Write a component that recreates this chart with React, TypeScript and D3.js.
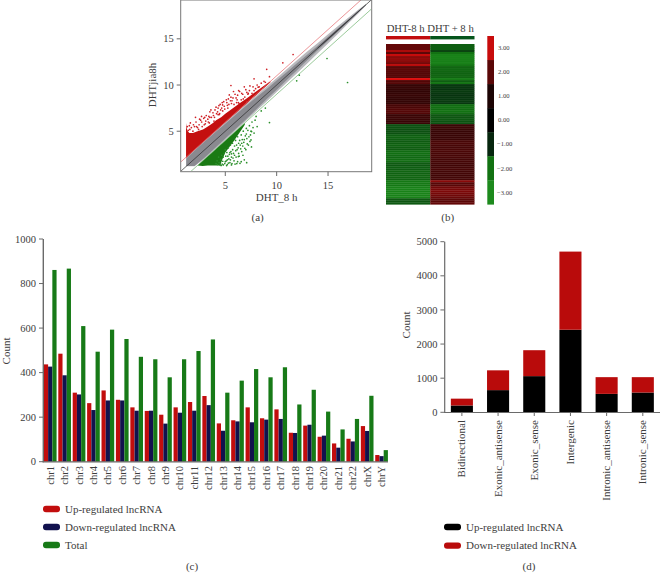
import React from 'react';
import * as d3 from 'd3';

const FONT = '"Liberation Serif", serif';
const TEXT = '#3d3d3d';
const AXIS = '#6a6a6a';

// panel (a) - scatter, dense parts are read as outlines, sparse parts as single dots
const scatterTicks = [5, 10, 15];
const refOffsets = [1, 0, -1];
const bandX = [1.2, 2, 3, 4, 5, 6, 7, 8, 9, 10, 11, 12, 13, 14, 15, 16, 17, 18, 18.7];
const lightTop = [2.1, 2.95, 3.95, 4.95, 5.95, 6.92, 7.9, 8.85, 9.8, 10.75, 11.72, 12.7, 13.65, 14.55, 15.5, 16.42, 17.3, 18.2, 18.78];
const lightBottom = [1.2, 1.2, 2.05, 3.05, 4.05, 5.08, 6.1, 7.15, 8.2, 9.25, 10.28, 11.3, 12.35, 13.45, 14.5, 15.58, 16.7, 17.8, 18.62];
const coreTop = [2.05, 2.88, 3.88, 4.85, 5.82, 6.78, 7.72, 8.65, 9.55, 10.5, 11.42, 12.38, 13.3, 14.25, 15.22, 16.18, 17.12, 18.08, 18.72];
const coreBottom = [1.25, 1.25, 2.15, 3.18, 4.2, 5.24, 6.28, 7.35, 8.45, 9.5, 10.58, 11.62, 12.7, 13.75, 14.78, 15.82, 16.88, 17.92, 18.68];
const darkX = [14, 15, 16, 17, 18, 18.7];
const darkTop = [14.06, 15.1, 16.1, 17.07, 18.05, 18.71];
const darkBottom = [13.94, 14.9, 15.9, 16.93, 17.95, 18.69];
const redEdgeX = [1.18, 1.25, 1.35, 1.5, 1.85, 2.3, 2.83, 3.3, 3.8, 4.1, 4.6, 5, 5.5, 6, 6.5, 7, 7.5, 8, 8.5, 9, 9.4];
const redEdgeY = [5.9, 5.3, 5, 4.8, 4.8, 5, 5.2, 5.5, 5.9, 6.2, 6.5, 6.9, 7.3, 7.7, 8.1, 8.5, 8.9, 9.3, 9.7, 10.1, 10.4];
const greenEdgeX = [2.3, 2.8, 3.3, 4, 4.5, 4.7, 5, 5.4, 5.8, 6.3, 6.9];
const greenEdgeY = [1.3, 1.25, 1.28, 1.28, 1.3, 1.9, 2.7, 3.3, 3.9, 4.7, 5.7];
const redDotX = [5.55, 5.39, 5.55, 9.03, 10.6, 11.6, 7.8, 8.77, 7.24, 4.38, 4.74, 2.69, 2.1, 3.5, 4.3, 6.75, 6.27, 7.08, 8.2, 7.8, 1.3, 1.4, 1.55, 1.7, 1.85, 2, 2.15, 2.3, 2.45, 2.6, 2.75, 2.9, 3.05, 3.15, 3.3, 3.45, 3.5, 3.65, 3.8, 3.9, 4, 4.15, 4.3, 4.45, 4.5, 4.65, 4.85, 4.95, 5.15, 5.25, 5.3, 5.5, 5.75, 5.85, 5.95, 6.1, 6.2, 6.35, 6.4, 6.55, 6.7, 6.9, 7, 7.2, 7.4, 7.6, 7.7, 7.95, 8.1, 8.3, 8.5, 8.9, 9.3, 1.5, 1.9, 2.2, 2.5, 2.7, 3, 3.1, 3.4, 3.6, 3.85, 4.1, 4.25, 4.55, 4.7, 4.9, 5.1, 5.35, 5.6, 5.8, 6.05, 6.3, 6.6, 6.85, 7.1, 7.35, 1.6, 2.4, 2.95, 3.35, 3.95, 4.4, 4.75, 5.2, 5.65, 6.15];
const redDotY = [9.95, 8.93, 8.68, 11.7, 12.4, 13.3, 10.67, 10.4, 9.1, 7.78, 7.85, 6.6, 6.5, 6.5, 6.8, 8.5, 8.1, 8.2, 9.77, 9.4, 5.5, 5.1, 5.2, 5.4, 5, 5.5, 6, 5.4, 5.7, 6.2, 5.5, 6.4, 5.8, 6.7, 6.3, 5.9, 7.1, 6.5, 7, 6.1, 7.3, 6.9, 7.5, 6.9, 7.9, 7.5, 8.2, 7.4, 8.1, 7.5, 8.5, 8.3, 8.6, 7.9, 9, 8.1, 8.9, 8, 9.3, 8.4, 9, 8.7, 9.5, 9, 9.9, 9.1, 9.8, 9.6, 10, 9.8, 10.2, 10.3, 10.9, 5.6, 5.7, 5.5, 6.3, 6, 6.5, 6.1, 6.6, 7.3, 6.7, 7.6, 7.1, 7.3, 8.1, 7.7, 8.4, 7.9, 8, 9.3, 8.6, 9.4, 9.1, 9.8, 9.2, 9.4, 5.9, 5.2, 5.7, 6, 6.5, 6.8, 7.2, 7.8, 8.3, 8.4];
const greenDotX = [14.9, 16.9, 11.95, 12.2, 9.3, 7.56, 7.5, 7.08, 6.43, 6.27, 6.9, 6.6, 5.6, 5.13, 7.4, 7.14, 8, 7.9, 8.5, 8.9, 4.1, 4.2, 4.25, 4.35, 4.4, 4.5, 4.55, 4.65, 4.7, 4.75, 4.8, 4.9, 4.95, 5, 5.05, 5.1, 5.15, 5.2, 5.3, 5.35, 5.4, 5.45, 5.5, 5.55, 5.6, 5.7, 5.72, 5.8, 5.85, 5.9, 6, 6.02, 6.1, 6.12, 6.2, 6.25, 6.3, 6.4, 6.45, 6.55, 6.6, 6.65, 6.75, 6.8, 6.85, 6.95, 7.05, 7.1, 7.2, 7.35, 7.45, 7.6, 7.7, 4.6, 4.8, 5, 5.2, 5.25, 5.3, 5.45, 5.5, 5.6, 5.65, 5.75, 5.9, 5.95, 6.05, 6.15, 6.2, 6.3, 6.35, 6.5, 6.55, 6.7, 6.72, 6.85, 7, 7.05, 7.25, 7.3, 7.5, 7.55, 7.8, 8.1];
const greenDotY = [12.87, 10.27, 10.45, 11.07, 5.94, 4.96, 4.06, 1.6, 1.53, 2.26, 3.16, 3.7, 1.35, 1.28, 3.9, 3.63, 6.6, 6.2, 7.2, 7.5, 1.5, 1.8, 1.4, 2.2, 1.6, 1.35, 1.95, 2.4, 1.45, 1.75, 2.2, 2.6, 1.5, 3, 2.3, 1.8, 2.7, 1.4, 3.2, 2, 2.5, 1.6, 3.5, 2.8, 2.2, 3.7, 3, 2.6, 1.8, 3.4, 4, 2.9, 3.5, 1.5, 4.4, 3.2, 2.6, 4, 3.5, 4.6, 2.8, 4.1, 5, 3.8, 1.9, 4.5, 5.3, 4.2, 5.1, 5.6, 4.6, 6, 5.4, 1.3, 1.35, 1.7, 1.9, 2.3, 1.55, 2.7, 1.9, 2.55, 1.5, 2.1, 2.4, 1.45, 2.2, 3, 1.7, 3.7, 2.3, 3.1, 1.7, 3.4, 2.4, 4.1, 3, 4.7, 3.5, 4.4, 5, 3.3, 4.8, 5.5];

// panel (b) - heat map rows, top half then bottom half
const heatColumns = ['DHT-8 h', 'DHT + 8 h'];
const heatLeft = [2.05, 2.05, 2.05, 2.6, 2, 2.8, 2.35, 2.4, 2.35, 2.2, 2.7, 1.9, 1.95, 1.9, 1.85, 1.9, 1.9, 3, 1.8, 1.9, 1.2, 1.25, 1.2, 1.15, 1.2, 1.25, 1.2, 1.15, 1.2, 1.2, 1.6, 1.65, 1.8, 1.85, 1.8, 1.3, 1.35, 1.3, 1.25, 1.3, -1.5, -1.5, -1.45, -1.5, -1.5, -1.7, -1.75, -1.7, -1.65, -1.7, -1.75, -1.7, -1.65, -1.9, -1.95, -1.9, -1.85, -1.9, -1.9, -1.65, -1.6, -1.7, -1.65, -1.8, -1.75, -1.8, -1.8, -1.75, -2.2, -2.25, -2.2, -2.5, -2.5, -2.55, -2.6, -2.55, -2.5, -1.6, -1.55, -1.6];
const heatRight = [-1.7, -1.7, -1.7, -1.3, -2, -2.5, -2.55, -2.5, -2.45, -2.5, -2.1, -1.8, -1.85, -1.8, -1.75, -1.8, -1.8, -2.3, -1.7, -2, -1.1, -1.1, -1.05, -1.15, -1.1, -1.05, -1.1, -1.1, -1.15, -1.1, -1.9, -1.95, -1.9, -2, -1.9, -1.6, -1.55, -1.6, -1.5, -1.5, 1.3, 1.35, 1.3, 1.25, 1.3, 1.3, 1.3, 1.3, 1.6, 1.65, 1.6, 1.55, 1.6, 1.65, 1.6, 1.6, 1.6, 1.5, 1.55, 1.5, 1.45, 1.5, 1.55, 1.5, 1.5, 1.45, 1.5, 1.5, 2.35, 1.9, 1.95, 2.15, 2.2, 2.25, 2.2, 2.15, 2.1, 2, 1.95, 2.05];
const legendValues = [3, 2, 1, 0, -1, -2, -3];
const legendColors = ['#c80c0c', '#5a0707', '#1c0404', '#000000', '#06260e', '#127212', '#1d8a1d'];
const legendLabels = ['3.00', '2.00', '1.00', '0.00', '\u22121.00', '\u22122.00', '\u22123.00'];
const heatStops = [-3, -2, -1, 0, 1, 2, 3];
const heatRange = ['#1d8f1d', '#127212', '#06300f', '#000000', '#2a0404', '#5c0707', '#e00c0c'];

// panel (c)
const chromosomes = ['chr1', 'chr2', 'chr3', 'chr4', 'chr5', 'chr6', 'chr7', 'chr8', 'chr9', 'chr10', 'chr11', 'chr12', 'chr13', 'chr14', 'chr15', 'chr16', 'chr17', 'chr18', 'chr19', 'chr20', 'chr21', 'chr22', 'chrX', 'chrY'];
const chrUp = [437, 485, 310, 263, 320, 278, 244, 228, 211, 244, 268, 295, 172, 186, 244, 195, 235, 130, 162, 112, 82, 103, 160, 30];
const chrDown = [427, 388, 302, 232, 275, 275, 229, 229, 171, 220, 229, 254, 139, 181, 177, 189, 192, 129, 166, 117, 63, 91, 138, 25];
const chrTotal = [861, 867, 609, 494, 593, 551, 471, 460, 379, 460, 497, 549, 310, 364, 416, 379, 424, 257, 323, 225, 145, 192, 296, 52];
const chrSeries = ['Up-regulated lncRNA', 'Down-regulated lncRNA', 'Total'];
const chrColors = ['#c20d0d', '#12124e', '#177a17'];
const chrTicks = [0, 200, 400, 600, 800, 1000];

// panel (d)
const lncTypes = ['Bidirectional', 'Exonic_antisense', 'Exonic_sense', 'Intergenic', 'Intronic_antisense', 'Intronic_sense'];
const lncUp = [200, 650, 1060, 2420, 540, 580];
const lncDown = [200, 580, 760, 2290, 490, 450];
const lncSeries = ['Up-regulated lncRNA', 'Down-regulated lncRNA'];
const lncColors = ['#000000', '#b90b0b'];
const lncTicks = [0, 1000, 2000, 3000, 4000, 5000];

const txt = { fontFamily: FONT, fill: TEXT };

function YAxis({ scale, ticks, x, size = 10.5, len = 4, width = 1 }: any) {
    return (
        <g>
            {ticks.map((t: number) => (
                <g key={t}>
                    <line x1={x - len} x2={x} y1={scale(t)} y2={scale(t)} stroke={AXIS} strokeWidth={width} />
                    <text x={x - len - 3} y={scale(t) + 3.6} textAnchor="end" fontSize={size} style={txt}>{t}</text>
                </g>
            ))}
        </g>
    );
}

function Scatter() {
    const x = d3.scaleLinear().domain([0.66, 19.25]).range([180.7, 371.7]);
    const y = d3.scaleLinear().domain([0.62, 19.2]).range([171.7, 0]);
    const band = (xs: number[], top: number[], bottom: number[]) =>
        d3.area<number>().x(d => x(d)).y0((_, i) => y(bottom[i])).y1((_, i) => y(top[i]))(xs) as string;
    const redArea = d3.area<number>().x(d => x(d)).y0(d => y(d + refOffsets[0] - 0.1)).y1((_, i) => y(redEdgeY[i]))(redEdgeX) as string;
    const greenArea = d3.area<number>().x(d => x(d)).y0((_, i) => y(greenEdgeY[i])).y1(d => y(d + refOffsets[2]))(greenEdgeX) as string;
    return (
        <g>
            <clipPath id="plotA"><rect x={181} y={0} width={190} height={171} /></clipPath>
            <g clipPath="url(#plotA)">
                <path d={redArea} fill="#c41010" />
                <path d={greenArea} fill="#1a7a14" />
                {redDotX.map((d, i) => <circle key={i} cx={x(d)} cy={y(redDotY[i])} r={0.85} fill="#cf2026" />)}
                {greenDotX.map((d, i) => <circle key={i} cx={x(d)} cy={y(greenDotY[i])} r={0.85} fill="#2a8f2a" />)}
                <path d={band(bandX, lightTop, lightBottom)} fill="#b9b9bd" />
                <path d={band(bandX, coreTop, coreBottom)} fill="#8a8a90" />
                <path d={band(darkX, darkTop, darkBottom)} fill="#55555b" />
                {refOffsets.map((o, i) => (
                    <line key={o} x1={x(0.66)} y1={y(0.66 + o)} x2={x(19.25)} y2={y(19.25 + o)}
                          stroke={['#e2666a', '#2a2a2a', '#6fb36f'][i]} strokeWidth={0.7} />
                ))}
            </g>
            <rect x={180.7} y={0} width={191} height={171.7} fill="none" stroke="#777" strokeWidth={1} />
            {scatterTicks.map(t => (
                <g key={t}>
                    <line x1={x(t)} x2={x(t)} y1={171.7} y2={176} stroke={AXIS} />
                    <text x={x(t)} y={188.5} textAnchor="middle" fontSize={10.5} style={txt}>{t}</text>
                </g>
            ))}
            <YAxis scale={y} ticks={scatterTicks} x={180.7} />
            <text x={276.7} y={201} textAnchor="middle" fontSize={11} style={txt}>DHT_8 h</text>
            <text transform="translate(156,85) rotate(-90)" textAnchor="middle" fontSize={11} style={txt}>DHTjia8h</text>
            <text x={257.7} y={221} textAnchor="middle" fontSize={11} style={txt}>(a)</text>
        </g>
    );
}

function Heatmap() {
    const col = d3.scaleBand().domain(heatColumns).range([386, 474.5]);
    const row = d3.scaleBand<number>().domain(d3.range(heatLeft.length)).range([44, 204.3]);
    const color = d3.scaleLinear<string>().domain(heatStops).range(heatRange).clamp(true);
    const bar = d3.scaleBand<number>().domain(legendValues).range([36, 204.3]);
    return (
        <g>
            <text x={430.2} y={32} textAnchor="middle" fontSize={10.7} style={txt}>{heatColumns.join(' ')}</text>
            <rect x={col(heatColumns[0])} y={36} width={col.bandwidth()} height={3.4} fill="#c10d0d" />
            <rect x={col(heatColumns[1])} y={36} width={col.bandwidth()} height={3.4} fill="#05551c" />
            {heatLeft.map((v, i) => <rect key={i} x={col(heatColumns[0])} y={row(i)} width={col.bandwidth()} height={row.bandwidth() + 0.3} fill={color(v)} />)}
            {heatRight.map((v, i) => <rect key={i} x={col(heatColumns[1])} y={row(i)} width={col.bandwidth()} height={row.bandwidth() + 0.3} fill={color(v)} />)}
            {legendValues.map((v, i) => (
                <g key={v}>
                    <rect x={487.3} y={bar(v)} width={6.7} height={bar.bandwidth() + 0.3} fill={legendColors[i]} />
                    <text x={i > 3 ? 497 : 498} y={(bar(v) as number) + bar.bandwidth() / 2 + 2.3} fontSize={6.6} style={txt}>{legendLabels[i]}</text>
                </g>
            ))}
            <text x={447.7} y={221} textAnchor="middle" fontSize={11} style={txt}>(b)</text>
        </g>
    );
}

function Legend({ labels, colors, x, y, step }: any) {
    return (
        <g>
            {labels.map((l: string, i: number) => (
                <g key={l}>
                    <rect x={x} y={y + i * step - 3.2} width={17} height={6.4} rx={3} fill={colors[i]} />
                    <text x={x + 22} y={y + i * step + 3.5} fontSize={11} style={txt}>{l}</text>
                </g>
            ))}
        </g>
    );
}

function ChrBars() {
    const x = d3.scaleBand().domain(chromosomes).range([43.6, 388.2]).paddingInner(0.12).paddingOuter(0.02);
    const inner = d3.scaleBand().domain(chrSeries).range([0, x.bandwidth()]);
    const y = d3.scaleLinear().domain([0, 1000]).range([461.7, 239]);
    const series = [chrUp, chrDown, chrTotal];
    return (
        <g>
            {series.map((vals, s) => vals.map((v, i) => (
                <rect key={s + '-' + i} x={(x(chromosomes[i]) as number) + (inner(chrSeries[s]) as number)} y={y(v)}
                      width={inner.bandwidth()} height={y(0) - y(v)} fill={chrColors[s]} />
            )))}
            <line x1={43.3} x2={43.3} y1={239} y2={462.3} stroke={AXIS} strokeWidth={1.4} />
            <line x1={42.6} x2={388} y1={461.9} y2={461.9} stroke={AXIS} strokeWidth={1.2} />
            <YAxis scale={y} ticks={chrTicks} x={43} />
            {chromosomes.map(c => {
                const cx = (x(c) as number) + x.bandwidth() / 2;
                return <text key={c} transform={`translate(${cx + 3.5},466) rotate(-90)`} textAnchor="end" fontSize={10.5} style={txt}>{c}</text>;
            })}
            <text transform="translate(9.5,351) rotate(-90)" textAnchor="middle" fontSize={11} style={txt}>Count</text>
            <Legend labels={chrSeries} colors={chrColors} x={43} y={509} step={18} />
            <text x={192} y={570} textAnchor="middle" fontSize={11} style={txt}>(c)</text>
        </g>
    );
}

function LncBars() {
    const x = d3.scaleBand().domain(lncTypes).range([444.7, 660]).paddingInner(0.39).paddingOuter(0.17);
    const y = d3.scaleLinear().domain([0, 5000]).range([412.3, 241.7]);
    const rows = lncTypes.map((t, i) => ({ type: t, up: lncUp[i], down: lncDown[i] }));
    const stacked = d3.stack<any>().keys(['up', 'down'])(rows);
    return (
        <g>
            {stacked.map((layer, s) => layer.map(d => (
                <rect key={s + d.data.type} x={x(d.data.type)} y={y(d[1])} width={x.bandwidth()} height={y(d[0]) - y(d[1])} fill={lncColors[s]} />
            )))}
            <line x1={444.7} x2={444.7} y1={241.7} y2={412.8} stroke={AXIS} strokeWidth={1.2} />
            <line x1={444} x2={660} y1={412.5} y2={412.5} stroke={AXIS} strokeWidth={1.2} />
            <YAxis scale={y} ticks={lncTicks} x={444.4} />
            {lncTypes.map(t => {
                const cx = (x(t) as number) + x.bandwidth() / 2;
                return <g key={t}>
                    <line x1={cx} x2={cx} y1={412.5} y2={416} stroke={AXIS} />
                    <text transform={`translate(${cx + 3.5},420) rotate(-90)`} textAnchor="end" fontSize={11} style={txt}>{t}</text>
                </g>;
            })}
            <text transform="translate(410,325) rotate(-90)" textAnchor="middle" fontSize={11} style={txt}>Count</text>
            <Legend labels={lncSeries} colors={lncColors} x={444} y={527} step={18.6} />
            <text x={529} y={570} textAnchor="middle" fontSize={11} style={txt}>(d)</text>
        </g>
    );
}

export default function App() {
    return (
        <svg width={660} height={573} style={{ position: 'absolute', left: 0, top: 0, display: 'block', background: '#fff' }}>
            <Scatter />
            <Heatmap />
            <ChrBars />
            <LncBars />
        </svg>
    );
}
